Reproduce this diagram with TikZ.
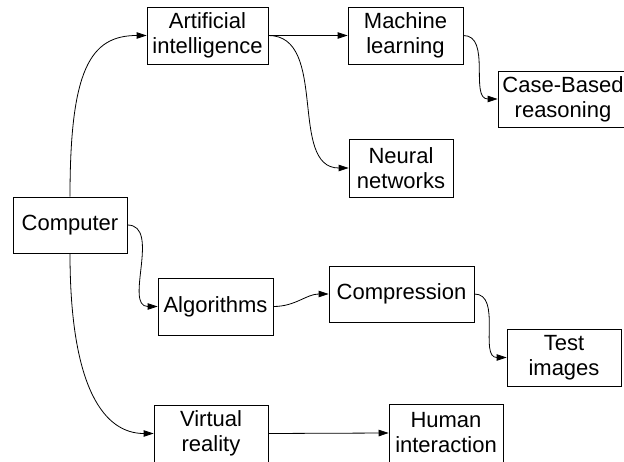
\documentclass[tikz,border=0pt]{standalone}
\usepackage{fontspec}
\setmainfont{Liberation Sans}
\usetikzlibrary{arrows.meta}
\begin{document}
\begin{tikzpicture}[x=1pt,y=-1pt,
  box/.style={draw,line width=0.8pt,align=center,inner sep=0pt,font=\fontsize{22}{25}\selectfont},
  conn/.style={line width=0.8pt,-{Triangle[length=10pt,width=6.5pt]}},
  sw/.style={out=0,in=180}]
\useasboundingbox (0,0) rectangle (624,462);
\clip (0,0) rectangle (624,462);
\node[box,minimum width=121pt,minimum height=57pt] (ai) at (207.5,35.5) {Artificial\\intelligence};
\node[box,minimum width=115pt,minimum height=57pt] (ml) at (405.5,35.5) {Machine\\learning};
\node[box,minimum width=130pt,minimum height=56pt] (cbr) at (563,99) {Case-Based\\reasoning};
\node[box,minimum width=104pt,minimum height=58pt] (nn) at (401,168) {Neural\\networks};
\node[box,minimum width=114pt,minimum height=56pt] (comp) at (70,225) {Computer};
\node[box,minimum width=115pt,minimum height=57pt] (alg) at (215.5,306.5) {Algorithms};
\node[box,minimum width=145pt,minimum height=56pt] (cmp) at (401.5,294) {Compression};
\node[box,minimum width=114pt,minimum height=57pt] (ti) at (564,357.5) {Test\\images};
\node[box,minimum width=114pt,minimum height=57pt] (vr) at (211,433.5) {Virtual\\reality};
\node[box,minimum width=114pt,minimum height=58pt] (hi) at (446,433) {Human\\interaction};
\draw[conn] (comp.north) .. controls (70,70) and (90,35.5) .. (ai.west);
\draw[conn] (comp.south) .. controls (70,390) and (105,433.5) .. (vr.west);
\draw[conn] (comp.east) to[sw] (alg.west);
\draw[conn] (ai.east) -- (ml.west);
\draw[conn] (ai.east) to[sw] (nn.west);
\draw[conn] (ml.east) to[sw] (cbr.west);
\draw[conn] (alg.east) to[sw] (cmp.west);
\draw[conn] (cmp.east) to[sw] (ti.west);
\draw[conn] (vr.east) -- (hi.west);
\end{tikzpicture}
\end{document}
